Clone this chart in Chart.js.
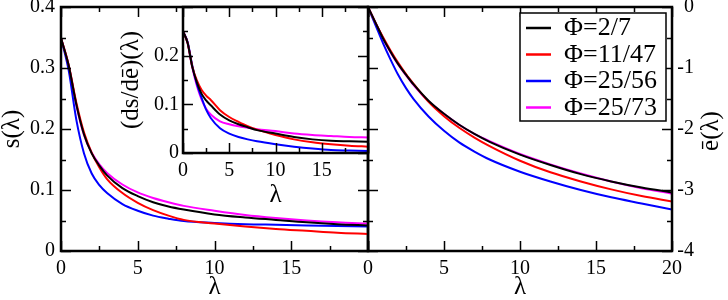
<!DOCTYPE html>
<html>
<head>
<meta charset="utf-8">
<script src="https://cdn.jsdelivr.net/npm/chart.js@4.4.1/dist/chart.umd.min.js"></script>
<style>
	html, body { margin: 0; padding: 0; background: #fff; }
	#wrap { position: relative; width: 728px; height: 300px; }
	#wrap canvas { position: absolute; left: 0; top: 0; }
</style>
</head>
<body>
<div id="wrap">
	<canvas id="rightChart" width="728" height="300"></canvas>
	<canvas id="leftChart" width="728" height="300"></canvas>
	<canvas id="insetChart" width="728" height="300"></canvas>
</div>
<script>
// lambda samples shared by every curve
const lambdas = [0, 0.5, 1, 1.5, 2, 2.5, 3, 4, 5, 6, 7, 8, 10, 12, 14, 16, 18, 20];

const seriesLabels = ['Φ=2/7', 'Φ=11/47', 'Φ=25/56', 'Φ=25/73'];
const seriesColors = ['#000000', '#ff0000', '#0000ff', '#ff00ff'];

// s(lambda), left panel
const sBlack   = [0.349, 0.304, 0.240, 0.191, 0.160, 0.140, 0.124, 0.103, 0.090, 0.080, 0.073, 0.068, 0.060, 0.055, 0.051, 0.047, 0.044, 0.042];
const sRed     = [0.349, 0.305, 0.243, 0.194, 0.161, 0.137, 0.118, 0.095, 0.079, 0.067, 0.058, 0.051, 0.045, 0.040, 0.036, 0.033, 0.030, 0.028];
const sBlue    = [0.349, 0.296, 0.215, 0.160, 0.127, 0.108, 0.095, 0.077, 0.066, 0.058, 0.053, 0.049, 0.046, 0.044, 0.043, 0.042, 0.041, 0.040];
const sMagenta = [0.349, 0.304, 0.239, 0.190, 0.161, 0.142, 0.128, 0.109, 0.096, 0.087, 0.080, 0.074, 0.066, 0.059, 0.054, 0.050, 0.047, 0.045];

// (ds/de)(lambda), inset
const dBlack   = [0.250, 0.226, 0.177, 0.145, 0.122, 0.108, 0.098, 0.079, 0.067, 0.059, 0.053, 0.047, 0.040, 0.033, 0.028, 0.025, 0.024, 0.023];
const dRed     = [0.250, 0.226, 0.178, 0.149, 0.130, 0.118, 0.109, 0.088, 0.074, 0.064, 0.055, 0.048, 0.037, 0.028, 0.022, 0.018, 0.015, 0.013];
const dBlue    = [0.250, 0.228, 0.180, 0.142, 0.114, 0.089, 0.072, 0.051, 0.040, 0.033, 0.028, 0.024, 0.018, 0.013, 0.009, 0.006, 0.005, 0.004];
const dMagenta = [0.250, 0.226, 0.176, 0.138, 0.110, 0.091, 0.079, 0.065, 0.059, 0.055, 0.052, 0.049, 0.045, 0.040, 0.037, 0.035, 0.033, 0.032];

// e-bar(lambda), right panel
const eBlack   = [0, -0.26, -0.52, -0.74, -0.94, -1.11, -1.27, -1.54, -1.75, -1.93, -2.08, -2.21, -2.42, -2.59, -2.74, -2.86, -2.96, -3.04];
const eRed     = [0, -0.26, -0.50, -0.72, -0.92, -1.10, -1.26, -1.56, -1.79, -1.98, -2.14, -2.28, -2.52, -2.71, -2.86, -2.99, -3.10, -3.19];
const eBlue    = [0, -0.30, -0.60, -0.87, -1.12, -1.33, -1.51, -1.80, -2.03, -2.22, -2.37, -2.50, -2.70, -2.86, -3.00, -3.12, -3.22, -3.32];
const eMagenta = [0, -0.26, -0.52, -0.75, -0.95, -1.12, -1.28, -1.55, -1.75, -1.93, -2.08, -2.20, -2.41, -2.58, -2.73, -2.86, -2.97, -3.06];

const serif = "'Liberation Serif', 'Times New Roman', serif";
Chart.defaults.font.family = serif;
Chart.defaults.font.size = 20;
Chart.defaults.color = '#000';

const titleFont = { family: serif, size: 25, lineHeight: 1 };

function makeDatasets (groups) {
	return groups.map((values, i) => ({
		label: seriesLabels[i],
		data: values.map((v, k) => ({ x: lambdas[k], y: v })),
		borderColor: seriesColors[i],
		borderWidth: 2,
		pointRadius: 0,
		fill: false,
		cubicInterpolationMode: 'monotone'
	}));
}

// grace-like frame with inward ticks on all four sides
const framePlugin = {
	id: 'frame',
	beforeDraw (chart, args, opts) {
		if (!opts.fillWhite) return;
		const a = chart.chartArea;
		chart.ctx.save();
		chart.ctx.fillStyle = '#fff';
		chart.ctx.fillRect(a.left, a.top, a.right - a.left, a.bottom - a.top);
		chart.ctx.restore();
	},
	afterDraw (chart, args, opts) {
		const { ctx, chartArea: a } = chart;
		const xs = chart.scales.x;
		const ys = chart.scales.y;
		const isMajor = (v, step) => Math.abs(v / step - Math.round(v / step)) < 1e-6;
		ctx.save();
		ctx.strokeStyle = '#000';
		ctx.lineWidth = 1.5;
		ctx.beginPath();
		const nx = Math.round((xs.max - xs.min) / opts.xMinor);
		for (let i = 0; i <= nx; i++) {
			const v = xs.min + i * opts.xMinor;
			const len = isMajor(v, opts.xMajor) ? 10 : 5;
			const px = Math.round(xs.getPixelForValue(v)) + 0.5;
			ctx.moveTo(px, a.bottom); ctx.lineTo(px, a.bottom - len);
			ctx.moveTo(px, a.top); ctx.lineTo(px, a.top + len);
		}
		const ny = Math.round((ys.max - ys.min) / opts.yMinor);
		for (let i = 0; i <= ny; i++) {
			const v = ys.min + i * opts.yMinor;
			const len = isMajor(v, opts.yMajor) ? 10 : 5;
			const py = Math.round(ys.getPixelForValue(v)) + 0.5;
			ctx.moveTo(a.left, py); ctx.lineTo(a.left + len, py);
			ctx.moveTo(a.right, py); ctx.lineTo(a.right - len, py);
		}
		ctx.stroke();
		ctx.lineWidth = 2.5;
		ctx.strokeRect(a.left, a.top, a.right - a.left, a.bottom - a.top);
		ctx.restore();
	}
};

// rotated side title and the boxed legend of the right panel
const extrasPlugin = {
	id: 'extras',
	afterDraw (chart, args, opts) {
		const ctx = chart.ctx;
		ctx.save();
		if (opts.sideTitle) {
			ctx.translate(opts.sideTitle.x, opts.sideTitle.y);
			ctx.rotate(-Math.PI / 2);
			ctx.font = '25px ' + serif;
			ctx.fillStyle = '#000';
			ctx.textAlign = 'center';
			ctx.textBaseline = 'middle';
			ctx.fillText(opts.sideTitle.text, 0, 0);
			ctx.setTransform(1, 0, 0, 1, 0, 0);
		}
		if (opts.legendBox) {
			const b = opts.legendBox;
			ctx.fillStyle = '#fff';
			ctx.fillRect(b.x, b.y, b.w, b.h);
			ctx.strokeStyle = '#000';
			ctx.lineWidth = 1.5;
			ctx.strokeRect(b.x, b.y, b.w, b.h);
			ctx.font = '26px ' + serif;
			ctx.textAlign = 'left';
			ctx.textBaseline = 'alphabetic';
			chart.data.datasets.forEach((ds, i) => {
				const y = b.y + 15 + i * 26.5;
				ctx.strokeStyle = ds.borderColor;
				ctx.lineWidth = 2.5;
				ctx.beginPath();
				ctx.moveTo(b.x + 6, y); ctx.lineTo(b.x + 31, y);
				ctx.stroke();
				ctx.fillStyle = '#000';
				ctx.fillText(ds.label, b.x + 44, y + 7);
			});
		}
		ctx.restore();
	}
};

function fixWidth (w) {
	return function (scale) {
		scale.width = w;
		scale.paddingTop = 0;
		scale.paddingBottom = 0;
	};
}

function fixHeight (h) {
	return function (scale) {
		scale.height = h;
		scale.paddingLeft = 0;
		scale.paddingRight = 0;
	};
}

const hideLabel = (skip) => function (value) {
	return Math.abs(value - skip) < 1e-9 ? '' : String(+value.toFixed(2));
};

function baseOptions () {
	return {
		responsive: false,
		animation: false,
		events: [],
		plugins: { legend: { display: false }, tooltip: { enabled: false } }
	};
}

// left panel: s(lambda)
const leftOptions = baseOptions();
leftOptions.layout = { padding: { left: 0, top: 7, right: 360, bottom: 0 } };
leftOptions.plugins.frame = { xMajor: 5, xMinor: 2.5, yMajor: 0.1, yMinor: 0.05 };
leftOptions.scales = {
	x: {
		type: 'linear', min: 0, max: 20,
		grid: { display: false, drawTicks: false }, border: { display: false },
		ticks: { stepSize: 5, autoSkip: false, maxRotation: 0, padding: 6, callback: hideLabel(20) },
		title: { display: true, text: 'λ', font: titleFont, padding: 0 },
		afterFit: fixHeight(49)
	},
	y: {
		type: 'linear', min: 0, max: 0.4,
		grid: { display: false, drawTicks: false }, border: { display: false },
		ticks: { stepSize: 0.1, autoSkip: false, padding: 6, callback: hideLabel(-1) },
		title: { display: true, text: 's(λ)', font: titleFont, padding: 0 },
		afterFit: fixWidth(61)
	}
};

new Chart(document.getElementById('leftChart'), {
	type: 'line',
	data: { datasets: makeDatasets([sBlack, sRed, sBlue, sMagenta]) },
	options: leftOptions,
	plugins: [framePlugin]
});

// inset: (ds/de)(lambda)
const insetOptions = baseOptions();
insetOptions.layout = { padding: { left: 119, top: 7, right: 360, bottom: 92 } };
insetOptions.plugins.frame = { fillWhite: true, xMajor: 5, xMinor: 2.5, yMajor: 0.1, yMinor: 0.05 };
insetOptions.scales = {
	x: {
		type: 'linear', min: 0, max: 20,
		grid: { display: false, drawTicks: false }, border: { display: false },
		ticks: { stepSize: 5, autoSkip: false, maxRotation: 0, padding: 6, callback: hideLabel(20) },
		title: { display: true, text: 'λ', font: titleFont, padding: 0 },
		afterFit: fixHeight(55)
	},
	y: {
		type: 'linear', min: 0, max: 0.3,
		grid: { display: false, drawTicks: false }, border: { display: false },
		ticks: { stepSize: 0.1, autoSkip: false, padding: 4, callback: hideLabel(0.3) },
		title: { display: true, text: '(ds/dē)(λ)', font: titleFont, padding: 0 },
		afterFit: fixWidth(64)
	}
};

new Chart(document.getElementById('insetChart'), {
	type: 'line',
	data: { datasets: makeDatasets([dBlack, dRed, dBlue, dMagenta]) },
	options: insetOptions,
	plugins: [framePlugin]
});

// right panel: e-bar(lambda), axis on the right
const rightOptions = baseOptions();
rightOptions.layout = { padding: { left: 368, top: 7, right: 34, bottom: 0 } };
rightOptions.plugins.frame = { xMajor: 5, xMinor: 2.5, yMajor: 1, yMinor: 0.5 };
rightOptions.plugins.extras = {
	sideTitle: { text: 'ē(λ)', x: 711, y: 131 },
	legendBox: { x: 520, y: 13, w: 146, h: 108 }
};
rightOptions.scales = {
	x: {
		type: 'linear', min: 0, max: 20,
		grid: { display: false, drawTicks: false }, border: { display: false },
		ticks: { stepSize: 5, autoSkip: false, maxRotation: 0, padding: 6 },
		title: { display: true, text: 'λ', font: titleFont, padding: 0 },
		afterFit: fixHeight(49)
	},
	y: {
		type: 'linear', position: 'right', min: -4, max: 0,
		grid: { display: false, drawTicks: false }, border: { display: false },
		ticks: { stepSize: 1, autoSkip: false, padding: 8, crossAlign: 'far' },
		afterFit: fixWidth(22)
	}
};

new Chart(document.getElementById('rightChart'), {
	type: 'line',
	data: { datasets: makeDatasets([eBlack, eRed, eBlue, eMagenta]) },
	options: rightOptions,
	plugins: [framePlugin, extrasPlugin]
});
</script>
</body>
</html>
